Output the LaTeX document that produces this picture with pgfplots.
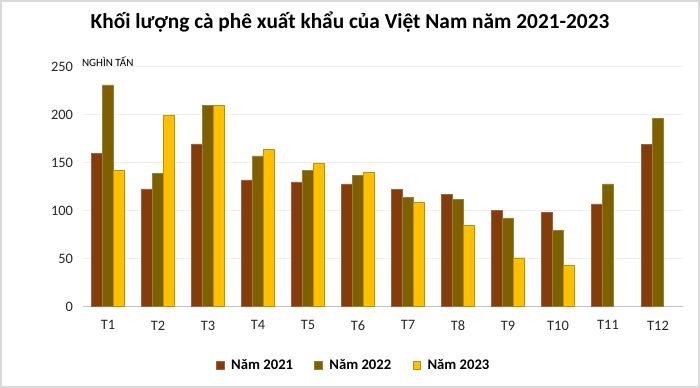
\documentclass[border=0pt]{standalone}
\usepackage{fontspec}
\setmainfont{Carlito}
\usepackage{pgfplots}
\pgfplotsset{compat=1.18}
\definecolor{c21}{HTML}{843C0C}
\definecolor{c22}{HTML}{7F6000}
\definecolor{c23}{HTML}{FFC000}
\definecolor{gridc}{HTML}{F0F0F0}
\definecolor{axc}{HTML}{C0C0C0}
\definecolor{framec}{HTML}{D9D9D9}
\begin{document}
\begin{tikzpicture}
\useasboundingbox (0,0) rectangle (525pt,291pt);
\draw[framec, line width=1.2pt] (0.6pt,0.6pt) rectangle (524.4pt,290.4pt);
\node[font=\fontsize{16}{18}\selectfont\bfseries, anchor=center] at (262.5pt,274.5pt) {Khối lượng cà phê xuất khẩu của Việt Nam năm 2021-2023};
\node[font=\fontsize{8.3}{9}\selectfont, anchor=base west, inner sep=0pt] at (61.3pt,241.3pt) {NGHÌN TẤN};
\begin{axis}[
  at={(62.25pt,61pt)}, anchor=south west,
  scale only axis, width=450pt, height=180pt,
  ybar=0pt, bar width=8.25pt,
  xmin=-0.5, xmax=11.5, ymin=0, ymax=250,
  xtick={0,...,11},
  xticklabels={T1,T2,T3,T4,T5,T6,T7,T8,T9,T10,T11,T12},
  ytick={0,50,...,250},
  ymajorgrids, grid style={gridc, line width=0.8pt},
  axis line style={draw=none},
  axis x line*=bottom, axis y line*=left,
  major tick length=0pt,
  tick style={draw=none},
  /pgf/number format/assume math mode=true,
  ticklabel style={font=\fontsize{10.8}{12}\selectfont, text=black!85},
  xticklabel style={yshift=-7pt},
  yticklabel style={xshift=-4pt},
  legend columns=3,
  legend style={at={(0.452,-0.244)}, anchor=center, draw=none, fill=none,
    font=\fontsize{11}{12}\selectfont\bfseries, column sep=14pt,
    /tikz/every odd column/.append style={column sep=3pt}},
  legend image code/.code={\draw[#1, line width=0.4pt] (0pt,-3pt) rectangle (5.8pt,2.8pt);},
  clip=false,
]
\draw[axc, line width=1.2pt] (rel axis cs:0,0) -- (rel axis cs:1,0);
\addplot[fill=c21, draw=c21!80!white, line width=0.3pt] coordinates {
(0,160) (1,122.6) (2,169.5) (3,132) (4,130) (5,127.8) (6,122) (7,117) (8,100) (9,98.6) (10,107) (11,169)};
\addplot[fill=c22, draw=c22!80!white, line width=0.3pt] coordinates {
(0,231) (1,139) (2,210) (3,157) (4,141.7) (5,137) (6,113.6) (7,112) (8,92.4) (9,79.5) (10,127.8) (11,196)};
\addplot[fill=c23, draw=c23!75!black, line width=0.3pt] coordinates {
(0,142) (1,199.5) (2,210) (3,164) (4,149.3) (5,140) (6,108.7) (7,84.4) (8,51) (9,43)};
\legend{Năm 2021, Năm 2022, Năm 2023}
\end{axis}
\end{tikzpicture}
\end{document}
